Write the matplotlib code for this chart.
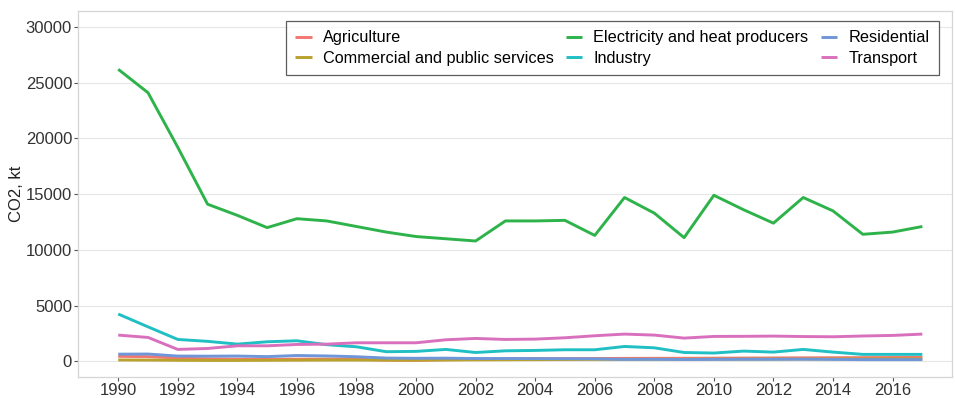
import matplotlib.pyplot as plt

plt.rcParams['font.family'] = ['Liberation Sans', 'DejaVu Sans']

years = list(range(1990, 2018))

agriculture = [450, 430, 300, 230, 200, 190, 200, 210, 200, 120, 100, 150, 180, 230,
               250, 250, 260, 270, 280, 280, 290, 300, 310, 320, 330, 340, 350, 360]
commercial = [130, 120, 100, 90, 90, 100, 110, 120, 120, 110, 110, 130, 140, 150,
              160, 170, 180, 180, 190, 190, 200, 200, 210, 210, 220, 220, 230, 230]
electricity = [26200, 24100, 19200, 14100, 13100, 12000, 12800, 12600, 12100, 11600,
               11200, 11000, 10800, 12600, 12600, 12650, 11300, 14700, 13300, 11100,
               14900, 13600, 12400, 14700, 13500, 11400, 11600, 12100]
industry = [4250, 3100, 1970, 1800, 1550, 1760, 1850, 1500, 1310, 870, 900, 1075, 800,
            950, 985, 1045, 1045, 1340, 1220, 800, 750, 925, 835, 1075, 835, 630, 630, 630]
residential = [650, 660, 480, 470, 480, 430, 530, 490, 420, 300, 280, 290, 260, 260,
               250, 240, 230, 180, 190, 170, 180, 190, 190, 200, 180, 160, 160, 160]
transport = [2360, 2150, 1075, 1160, 1400, 1400, 1520, 1550, 1670, 1670, 1670, 1940,
             2060, 1970, 2000, 2120, 2300, 2450, 2360, 2090, 2240, 2250, 2270, 2230,
             2210, 2280, 2330, 2450]

series = [
    ('Agriculture', agriculture, '#F27770'),
    ('Commercial and public services', commercial, '#B9A12C'),
    ('Electricity and heat producers', electricity, '#2DB34A'),
    ('Industry', industry, '#1FBFC4'),
    ('Residential', residential, '#6F96D8'),
    ('Transport', transport, '#D970BD'),
]

fig = plt.figure(figsize=(9.55, 3.98), dpi=100)
ax = fig.add_axes([0.0817, 0.053, 0.9153, 0.9194])

for name, vals, col in series:
    ax.plot(years, vals, color=col, lw=2.1, label=name, solid_capstyle='butt')

ax.set_xlim(1988.65, 2018.0)
ax.set_ylim(-1390, 31430)
ax.set_xticks(range(1990, 2017, 2))
ax.set_yticks(range(0, 30001, 5000))
ax.set_ylabel('CO2, kt', fontsize=12, color='#222222', labelpad=1)

ax.grid(axis='y', color='#e6e6e6', lw=0.8)
ax.set_axisbelow(True)
for s in ax.spines.values():
    s.set_color('#d5d5d5')
    s.set_linewidth(0.9)
ax.tick_params(labelsize=12, labelcolor='#333333', color='#555555',
               length=2.8, width=0.8, pad=1.5)

# legend box inside the panel, top right, three columns
leg = ax.legend(ncol=3, loc='upper right', bbox_to_anchor=(0.9851, 0.9735),
                borderaxespad=0, fontsize=11.7, frameon=True, fancybox=False,
                handlelength=1.0, handletextpad=0.68, columnspacing=0.77,
                labelspacing=0.32, borderpad=0.6)
leg.get_frame().set_edgecolor('#333333')
leg.get_frame().set_linewidth(0.9)

fig.savefig('out.png', dpi=100)
